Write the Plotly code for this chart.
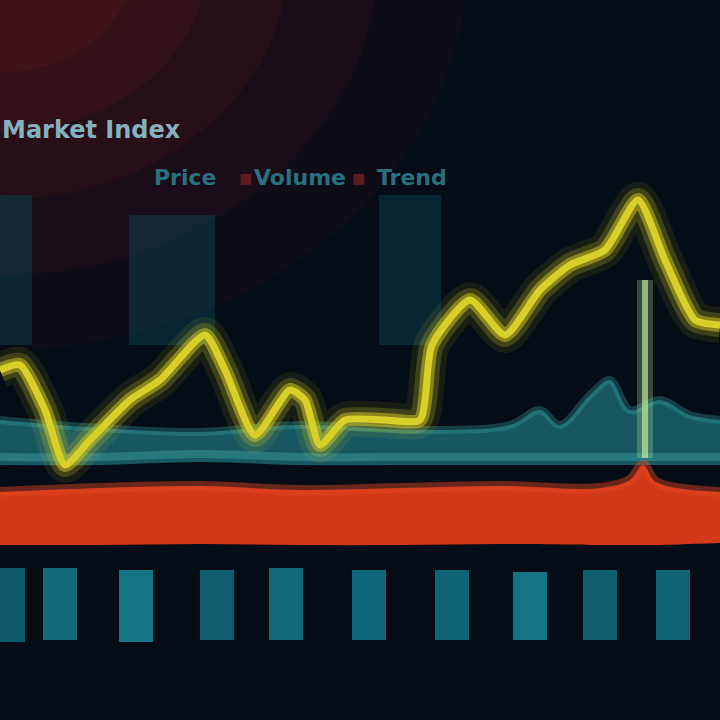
import plotly.graph_objects as go

# ---- data (values in chart units, 0..720 on both axes) ----
trend_x = [0, 20, 45, 65, 90, 130, 160, 205, 225, 255, 290, 305, 320, 345, 385, 420, 432, 470, 505, 540, 570, 605, 638, 665, 695, 720]
trend_y = [350, 355, 310, 255, 280, 320, 340, 385, 350, 285, 330, 320, 275, 300, 300, 300, 375, 420, 385, 430, 455, 470, 520, 460, 400, 395]

band_x = [0, 100, 200, 300, 420, 510, 540, 560, 590, 610, 630, 660, 690, 720]
band_hi = [300, 292, 288, 295, 290, 295, 310, 295, 325, 340, 310, 320, 305, 300]
band_lo = [255, 255, 258, 255, 255, 255, 255, 255, 255, 255, 255, 255, 255, 255]

red_x = [0, 100, 200, 300, 400, 500, 600, 630, 643, 656, 720]
red_hi = [228, 232, 234, 230, 232, 234, 232, 240, 255, 238, 228]
red_lo = [175, 175, 176, 175, 175, 176, 175, 175, 175, 175, 177]

vol_x = [8, 60, 136, 217, 286, 369, 452, 530, 600, 673]
vol_top = [152, 152, 150, 150, 152, 150, 150, 148, 150, 150]
vol_base = [78, 80, 78, 80, 80, 80, 80, 80, 80, 80]
vol_col = ["#0e5a6a", "#106a78", "#137484", "#0e5e6e", "#106a78", "#10667a", "#0f6476", "#137484", "#0e5e6e", "#0f6272"]

bg_x = [15, 172, 410]
bg_w = [34, 86, 62]
bg_top = [525, 505, 525]
bg_base = [375, 375, 375]

signal_x = [645, 645]
signal_y = [440, 262]

legend_labels = ["Price", "Volume", "Trend"]
legend_x = [185, 300, 412]

fig = go.Figure()

# background reddish glow (top-left)
for r, op in [(520, 0.07), (420, 0.08), (320, 0.10), (230, 0.12), (150, 0.12)]:
    fig.add_shape(type="circle", x0=-r * 0.9, x1=r * 0.9, y0=760 - r * 0.75, y1=760 + r * 0.75,
                  fillcolor="#a02020", opacity=op, line_width=0, layer="below")

# faint background columns
fig.add_trace(go.Bar(x=bg_x, y=[t - b for t, b in zip(bg_top, bg_base)], base=bg_base,
                     width=bg_w, marker=dict(color="#0d3d48", line_width=0), opacity=0.55, showlegend=False))

# bottom volume bars
fig.add_trace(go.Bar(x=vol_x, y=[t - b for t, b in zip(vol_top, vol_base)], base=vol_base,
                     width=34, marker=dict(color=vol_col, line_width=0), showlegend=False))

# teal band
fig.add_trace(go.Scatter(x=band_x, y=band_lo, mode="lines", line=dict(width=0, shape="spline"),
                         showlegend=False, hoverinfo="skip"))
fig.add_trace(go.Scatter(x=band_x, y=band_hi, mode="lines", fill="tonexty",
                         fillcolor="rgba(40,150,160,0.55)", line=dict(width=8, color="rgba(60,175,180,0.3)", shape="spline"),
                         showlegend=False))
fig.add_trace(go.Scatter(x=band_x, y=[v + 8 for v in band_lo], mode="lines",
                         line=dict(width=8, color="rgba(80,200,200,0.3)", shape="spline"), showlegend=False))

# red band
fig.add_trace(go.Scatter(x=red_x, y=red_lo, mode="lines", line=dict(width=0, shape="spline"),
                         showlegend=False, hoverinfo="skip"))
fig.add_trace(go.Scatter(x=red_x, y=red_hi, mode="lines", fill="tonexty",
                         fillcolor="rgba(228,62,26,0.92)", line=dict(width=10, color="rgba(230,70,30,0.45)", shape="spline"),
                         showlegend=False))

# signal vertical line
fig.add_trace(go.Scatter(x=signal_x, y=signal_y, mode="lines",
                         line=dict(width=16, color="rgba(170,220,150,0.3)"), showlegend=False))
fig.add_trace(go.Scatter(x=signal_x, y=signal_y, mode="lines",
                         line=dict(width=6, color="rgba(190,230,160,0.7)"), showlegend=False))

# yellow trend line with glow
for w, c in [(36, "rgba(210,200,30,0.10)"), (24, "rgba(210,200,30,0.22)"), (14, "rgba(212,202,34,0.5)"), (7, "#d8d028")]:
    fig.add_trace(go.Scatter(x=trend_x, y=trend_y, mode="lines",
                             line=dict(width=w, color=c, shape="spline", smoothing=0.6), showlegend=False))

# title & legend text
fig.add_annotation(x=0, y=590, xref="x", yref="y", xanchor="left", text="<b>Market Index</b>",
                   showarrow=False, font=dict(family="DejaVu Sans", size=24, color="#86b2c0"))
for lab, lx in zip(legend_labels, legend_x):
    fig.add_annotation(x=lx, y=543, text="<b>" + lab + "</b>", showarrow=False,
                       font=dict(family="DejaVu Sans", size=22, color="#2a7080"))
for sx in [245, 358]:
    fig.add_annotation(x=sx, y=543, text="<b>■</b>", showarrow=False,
                       font=dict(size=22, color="#5e1c20"))

fig.update_layout(
    width=720, height=720,
    margin=dict(l=0, r=0, t=0, b=0),
    paper_bgcolor="#040c16", plot_bgcolor="#040c16",
    xaxis=dict(range=[0, 720], visible=False, fixedrange=True),
    yaxis=dict(range=[0, 720], visible=False, fixedrange=True),
    barmode="overlay", bargap=0,
)

fig.write_html("out.html", config={"displayModeBar": False})

# remove the default page margin so the chart fills the window
with open("out.html", "r", encoding="utf-8") as f:
    html = f.read()
html = html.replace("<head>", "<head><style>html,body{margin:0;padding:0;background:#040c16;}</style>", 1)
with open("out.html", "w", encoding="utf-8") as f:
    f.write(html)
